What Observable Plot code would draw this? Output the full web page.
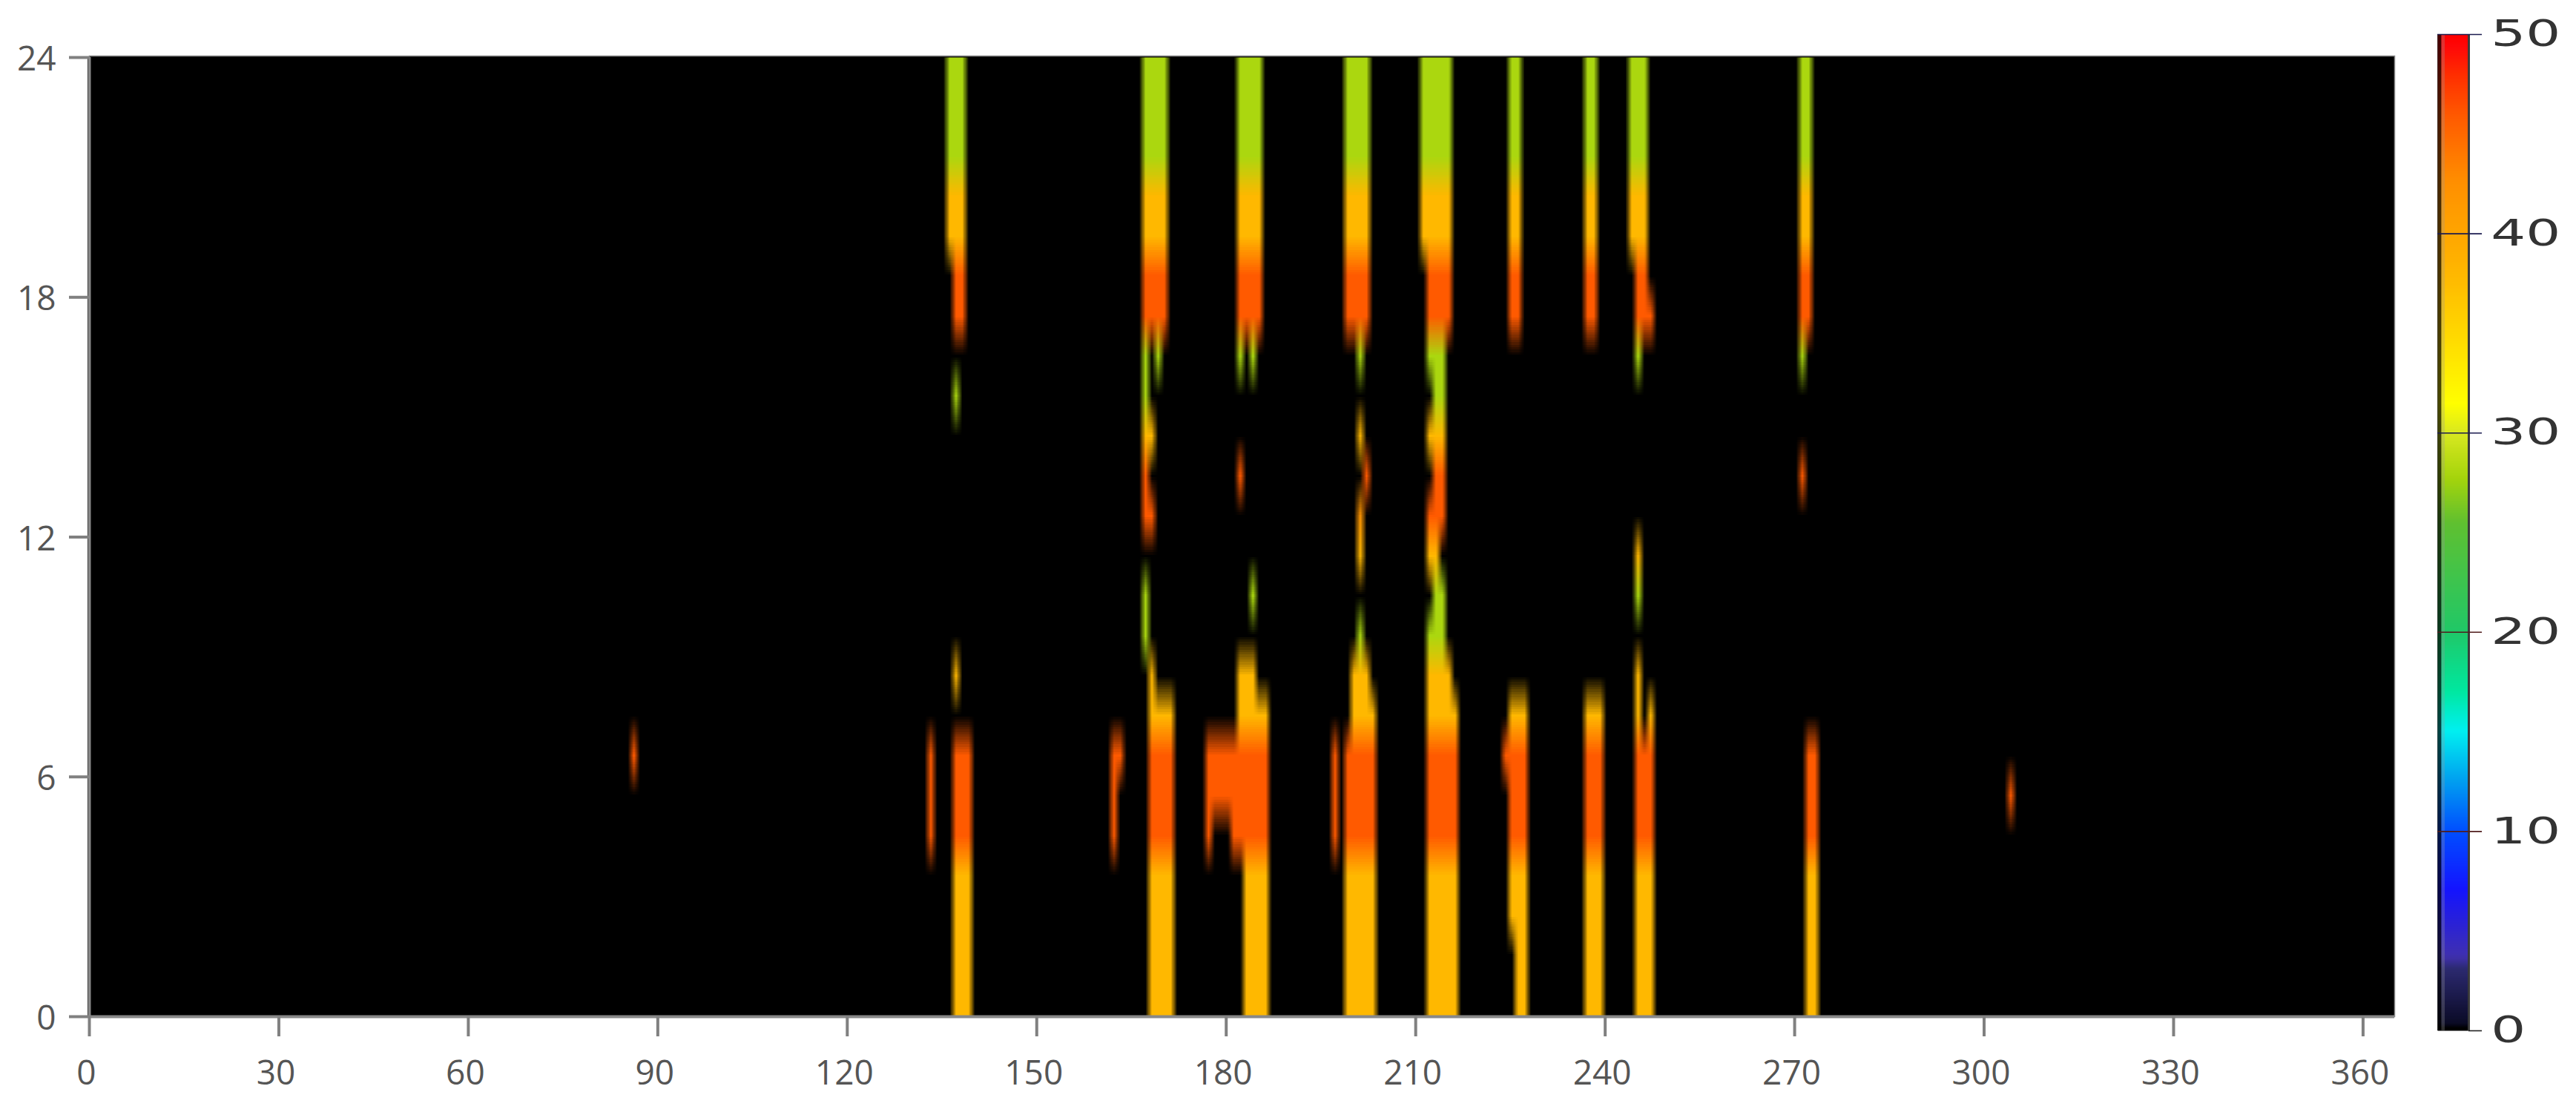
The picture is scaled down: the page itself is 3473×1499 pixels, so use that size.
<!DOCTYPE html>
<html><head><meta charset="utf-8">
<script src="https://cdn.jsdelivr.net/npm/d3@7"></script>
<script src="https://cdn.jsdelivr.net/npm/@observablehq/plot@0.6"></script>
<style>html,body{margin:0;background:#fff}#c{position:relative;width:3473px;height:1499px;overflow:hidden}#c svg{position:absolute;top:0;background:transparent;max-width:none}</style>
</head><body><div id="c"></div>
<script>
const xTicks=[0,30,60,90,120,150,180,210,240,270,300,330,360];
const yTicks=[0,6,12,18,24];
const barTicks=[0,10,20,30,40,50];
const stopValues=[0,0.01,3,3.6,7,10,12.5,15,17,20,25.5,27.7,30,31.5,34.3,38,42.6,46,48,49.5,50];
const stopColors=["#000000","#080820","#2c2a70","#4030b0","#1414ff","#0050ff","#00a0f0","#00f0f0","#00e8a0","#20c868","#60c030","#a4d40c","#d8e820","#ffff00","#ffe000","#ffb800","#ff9000","#ff5a00","#ff3000","#ff0808","#ff0000"];
const G=28,O=38,R=46;
// [hour, first day, last day, value]
const runsEarly=[
 [0,137,139,O],[0,168,171,O],[0,183,186,O],[0,199,203,O],[0,212,216,O],[0,226,227,O],[0,237,239,O],[0,245,247,O],[0,272,273,O],
 [1,137,139,O],[1,168,171,O],[1,183,186,O],[1,199,203,O],[1,212,216,O],[1,226,227,O],[1,237,239,O],[1,245,247,O],[1,272,273,O],
 [2,137,139,O],[2,168,171,O],[2,183,186,O],[2,199,203,O],[2,212,216,O],[2,225,227,O],[2,237,239,O],[2,245,247,O],[2,272,273,O],
 [3,137,139,O],[3,168,171,O],[3,183,186,O],[3,199,203,O],[3,212,216,O],[3,225,227,O],[3,237,239,O],[3,245,247,O],[3,272,273,O]];
const runsMorning=[
 [4,133,133,R],[4,137,139,R],[4,162,162,R],[4,168,171,R],[4,177,177,R],[4,181,186,R],[4,197,197,R],[4,199,203,R],[4,212,216,R],[4,225,227,R],[4,237,239,R],[4,245,247,R],[4,272,273,R],
 [5,133,133,R],[5,137,139,R],[5,162,162,R],[5,168,171,R],[5,177,186,R],[5,197,197,R],[5,199,203,R],[5,212,216,R],[5,225,227,R],[5,237,239,R],[5,245,247,R],[5,272,273,R],[5,304,304,R],
 [6,86,86,R],[6,133,133,R],[6,137,139,R],[6,162,163,R],[6,168,171,R],[6,177,186,R],[6,197,197,R],[6,199,203,R],[6,212,216,R],[6,224,227,R],[6,237,239,R],[6,245,247,R],[6,272,273,R],
 [7,168,171,O],[7,182,186,O],[7,200,203,O],[7,212,216,O],[7,225,227,O],[7,237,239,O],[7,245,245,O],[7,247,247,O],
 [8,137,137,O],[8,168,168,O],[8,182,184,O],[8,200,202,O],[8,212,215,O],[8,245,245,O]];
const runsMidday=[
 [9,167,167,G],[9,201,201,G],[9,212,214,G],
 [10,167,167,G],[10,184,184,G],[10,213,214,G],[10,245,245,G],
 [11,201,201,O],[11,212,213,O],[11,245,245,O],
 [12,167,168,R],[12,201,201,42],[12,212,214,R],
 [13,167,167,R],[13,182,182,R],[13,202,202,R],[13,213,214,R],[13,271,271,R],
 [14,167,168,O],[14,201,201,O],[14,212,214,O],
 [15,137,137,G],[15,167,167,G],[15,213,214,G]];
const runsEvening=[
 [16,167,167,G],[16,169,169,G],[16,182,182,G],[16,184,184,G],[16,201,201,G],[16,212,214,G],[16,245,245,G],[16,271,271,G],
 [17,137,138,R],[17,167,170,R],[17,182,185,R],[17,199,202,R],[17,212,215,R],[17,225,226,R],[17,237,238,R],[17,245,247,R],[17,271,272,R],
 [18,137,138,R],[18,167,170,R],[18,182,185,R],[18,199,202,R],[18,212,215,R],[18,225,226,R],[18,237,238,R],[18,245,246,R],[18,271,272,R],
 [19,136,138,O],[19,167,170,O],[19,182,185,O],[19,199,202,O],[19,211,215,O],[19,225,226,O],[19,237,238,O],[19,244,246,O],[19,271,272,O]];
const runsNight=[
 [20,136,138,O],[20,167,170,O],[20,182,185,O],[20,199,202,O],[20,211,215,O],[20,225,226,O],[20,237,238,O],[20,244,246,O],[20,271,272,O],
 [21,136,138,G],[21,167,170,G],[21,182,185,G],[21,199,202,G],[21,211,215,G],[21,225,226,G],[21,237,238,G],[21,244,246,G],[21,271,272,G],
 [22,136,138,G],[22,167,170,G],[22,182,185,G],[22,199,202,G],[22,211,215,G],[22,225,226,G],[22,237,238,G],[22,244,246,G],[22,271,272,G],
 [23,136,138,G],[23,167,170,G],[23,182,185,G],[23,199,202,G],[23,211,215,G],[23,225,226,G],[23,237,238,G],[23,244,246,G],[23,271,272,G]];

const days=365, hours=24;
const grid=new Array(days*hours).fill(0);
for(const [h,a,b,v] of [...runsEarly,...runsMorning,...runsMidday,...runsEvening,...runsNight])
  for(let d=a;d<=b;d++) grid[h*days+d]=v;
const color={type:"linear",domain:stopValues,range:stopColors,clamp:true};

const chart=Plot.plot({
  width:3473,height:1499,
  marginLeft:120,marginRight:245,marginTop:77,marginBottom:129,
  style:{fontFamily:"'Open Sans'",color:"#555",background:"transparent"},
  x:{domain:[0,365]},y:{domain:[0,24]},color,
  marks:[
    Plot.frame({fill:"#000",stroke:"#888",strokeWidth:1.5,insetTop:-2}),
    Plot.raster(grid,{width:days,height:hours,x1:-0.3,x2:364.7,y1:0,y2:24,fill:d=>d}),
    Plot.ruleX([0],{stroke:"#888",strokeWidth:4}),
    Plot.ruleY([0],{stroke:"#888",strokeWidth:4}),
    Plot.axisX({ticks:xTicks,tickSize:27,stroke:"#808080",strokeWidth:4,label:null,tickFormat:()=>""}),
    Plot.axisX({ticks:xTicks,tickSize:0,tickPadding:59,fontSize:46,dx:-4,label:null,tickFormat:d=>String(d)}),
    Plot.axisY({ticks:yTicks,tickSize:27,stroke:"#808080",strokeWidth:4,label:null,tickFormat:()=>""}),
    Plot.axisY({ticks:yTicks,tickSize:0,tickPadding:45,fontSize:46,dy:3,label:null,tickFormat:d=>String(d)})
  ]
});
chart.style.left="0px";
document.getElementById("c").appendChild(chart);

const ramp=d3.range(0,50.001,0.25);
const bar=Plot.plot({
  width:223,height:1499,
  marginLeft:36,marginRight:145,marginTop:46,marginBottom:110,
  style:{background:"transparent"},
  x:{domain:[0,1],axis:null},y:{domain:[0,50],axis:null},color,
  marks:[
    Plot.raster(ramp,{width:1,height:ramp.length,x1:0,x2:1,y1:0,y2:50,fill:d=>d}),
    Plot.rect([0],{x1:0,x2:0.13,y1:0,y2:50,fill:"#000",fillOpacity:0.72}),
    Plot.rect([0],{x1:0.13,x2:0.24,y1:0,y2:50,fill:"#999",fillOpacity:0.3}),
    Plot.ruleX([1],{stroke:"#3a3a3a",strokeWidth:3}),
    Plot.ruleY(barTicks.slice(1),{y:d=>d,x1:0,x2:1.43,stroke:d=>d>25?"#1c1c50":"#501c1c",strokeWidth:1.6}),
    Plot.ruleY([0],{x1:1,x2:1.43,stroke:"#222",strokeWidth:1.6}),
    Plot.text(barTicks,{x:1.71,y:d=>d,text:d=>String(d),textAnchor:"start",fontSize:49,fontFamily:"DejaVu Sans",fill:"#333"})
  ]
});
bar.style.left="3250px";
bar.querySelectorAll("text").forEach(t=>{
  t.setAttribute("textLength",t.textContent.length===2?94:47);
  t.setAttribute("lengthAdjust","spacingAndGlyphs");
});
document.getElementById("c").appendChild(bar);
</script></body></html>
